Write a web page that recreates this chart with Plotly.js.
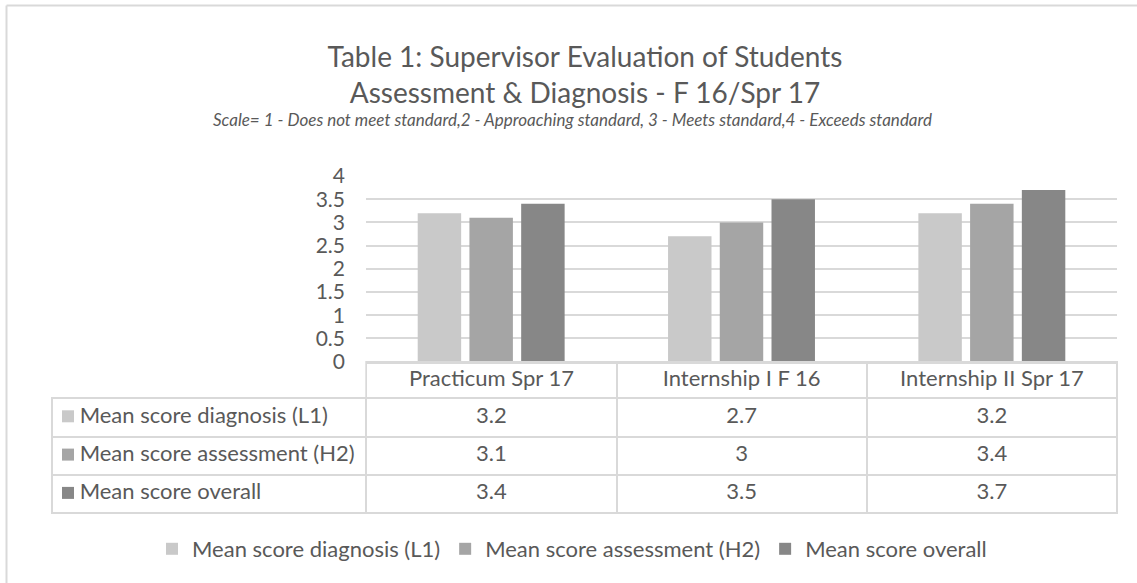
<!DOCTYPE html>
<html>
<head>
<meta charset="utf-8">
<script src="https://cdn.plot.ly/plotly-3.0.1.min.js"></script>
<style>
  html, body { margin: 0; padding: 0; background: #ffffff; }
  #chart { width: 1137px; height: 583px; }
</style>
</head>
<body>
<div id="chart"></div>
<script>
// ---- data ----
const categories = ["Practicum Spr 17", "Internship I F 16", "Internship II Spr 17"];
const seriesNames = ["Mean score diagnosis (L1)", "Mean score assessment (H2)", "Mean score overall"];
const diagnosis = [3.2, 2.7, 3.2];
const assessment = [3.1, 3.0, 3.4];
const overall = [3.4, 3.5, 3.7];
const yTickValues = [0, 0.5, 1, 1.5, 2, 2.5, 3, 3.5, 4];

// ---- styles / geometry ----
const W = 1137, H = 583;
const M = { l: 52, r: 20, t: 176, b: 68 };
const paperW = W - M.l - M.r, paperH = H - M.t - M.b;
const px2x = p => (p - M.l) / paperW;
const px2y = p => (H - M.b - p) / paperH;
const plotBottomPx = 361.7;
const splitY = px2y(plotBottomPx);

const colors = ["#c9c9c9", "#a5a5a5", "#878787"];
const textColor = "#595959";
const lineColor = "#d9d9d9";
const fontFamily = "Lato, 'Open Sans', sans-serif";
const tableFontSize = 22;
const headerHeightPx = 36.6;
const rowHeightPx = 38.3;
const tableHeightPx = (H - M.b) - plotBottomPx;
const keyCenterPx = 16;          // legend-key squares inside the table's first column
const nb = s => s.replace(/ /g, "\u00A0");   // keep cell text on one line

const seriesValues = [diagnosis, assessment, overall];

const barTraces = seriesValues.map((vals, i) => ({
  type: "bar",
  name: seriesNames[i],
  x: categories,
  y: vals,
  marker: { color: colors[i], line: { width: 0 } },
  hoverinfo: "x+y+name",
  xaxis: "x",
  yaxis: "y"
}));

// legend keys in the data table (one square per series row)
const keyTrace = {
  type: "scatter",
  mode: "markers",
  x: seriesNames.map(() => keyCenterPx),
  y: seriesNames.map((n, i) => i),
  marker: { symbol: "square", size: 12, color: colors, line: { width: 0 } },
  xaxis: "x2",
  yaxis: "y2",
  showlegend: false,
  hoverinfo: "skip",
  cliponaxis: false
};

const valueColumns = categories.map((c, ci) => seriesValues.map(s => s[ci]));

const tableTrace = {
  type: "table",
  domain: { x: [0, 1], y: [0, splitY] },
  columnwidth: [314, 250, 250, 250],
  header: {
    values: [""].concat(categories.map(nb)),
    align: ["left", "center", "center", "center"],
    height: headerHeightPx,
    fill: { color: "rgba(255,255,255,0)" },
    line: { color: ["rgba(255,255,255,0)", lineColor, lineColor, lineColor], width: 2 },
    font: { family: fontFamily, size: tableFontSize, color: textColor }
  },
  cells: {
    values: [seriesNames.map(n => "\u00A0\u00A0\u00A0\u2009" + nb(n))].concat(valueColumns),
    align: ["left", "center", "center", "center"],
    height: rowHeightPx,
    fill: { color: "rgba(255,255,255,0)" },
    line: { color: lineColor, width: 2 },
    font: { family: fontFamily, size: tableFontSize, color: textColor }
  },
  hoverinfo: "skip"
};

const headerRows = headerHeightPx / rowHeightPx;
const layout = {
  width: W,
  height: H,
  paper_bgcolor: "#ffffff",
  plot_bgcolor: "rgba(0,0,0,0)",
  margin: { l: M.l, r: M.r, t: M.t, b: M.b, pad: 0 },
  font: { family: fontFamily, color: textColor },
  title: {
    text: "Table 1: Supervisor Evaluation of Students<br>Assessment &amp; Diagnosis - F 16/Spr 17",
    x: 585 / W,
    xanchor: "center",
    xref: "container",
    y: 1 - 67 / H,
    yanchor: "middle",
    yref: "container",
    font: { family: fontFamily, size: 28, color: textColor }
  },
  annotations: [{
    text: "<i>Scale= 1 - Does not meet standard,2 - Approaching standard, 3 - Meets standard,4 - Exceeds standard</i>",
    xref: "paper", yref: "paper",
    x: px2x(572), y: px2y(120),
    xanchor: "center", yanchor: "middle",
    showarrow: false,
    font: { family: fontFamily, size: 17, color: textColor }
  }],
  barmode: "group",
  bargap: 0.38,
  bargroupgap: 0.16,
  xaxis: {
    domain: [px2x(366), 1],
    showticklabels: false,
    ticks: "",
    showgrid: false,
    showline: true,
    linecolor: lineColor,
    linewidth: 2,
    fixedrange: true
  },
  yaxis: {
    domain: [splitY, 1],
    range: [0, 4],
    tickvals: yTickValues,
    showgrid: true,
    gridcolor: lineColor,
    gridwidth: 1.5,
    zeroline: false,
    showline: false,
    ticks: "",
    ticklabelstandoff: 20,
    tickfont: { family: fontFamily, size: 21, color: textColor },
    fixedrange: true
  },
  xaxis2: {
    domain: [0, 1],
    range: [0, paperW],
    visible: false,
    fixedrange: true,
    anchor: "y2"
  },
  yaxis2: {
    domain: [0, splitY],
    // reversed row axis: row i centred in the i-th body row of the table
    range: [tableHeightPx / rowHeightPx - headerRows - 0.5 + 0.03, -headerRows - 0.5 + 0.03],
    visible: false,
    fixedrange: true,
    anchor: "x2"
  },
  showlegend: true,
  legend: {
    orientation: "h",
    x: px2x(572),
    xanchor: "center",
    y: px2y(549),
    yanchor: "middle",
    font: { family: fontFamily, size: 22, color: textColor },
    bgcolor: "rgba(0,0,0,0)",
    itemclick: false,
    itemdoubleclick: false
  },
  shapes: [
    { type: "line", xref: "paper", yref: "paper", x0: px2x(6.5), x1: px2x(W + 5), y0: px2y(5.5), y1: px2y(5.5),
      line: { color: lineColor, width: 2 } },
    { type: "line", xref: "paper", yref: "paper", x0: px2x(6.5), x1: px2x(6.5), y0: px2y(5.5), y1: px2y(H + 5),
      line: { color: lineColor, width: 2 } }
  ]
};

Plotly.newPlot("chart", barTraces.concat([keyTrace, tableTrace]), layout, { displayModeBar: false });
</script>
</body>
</html>
